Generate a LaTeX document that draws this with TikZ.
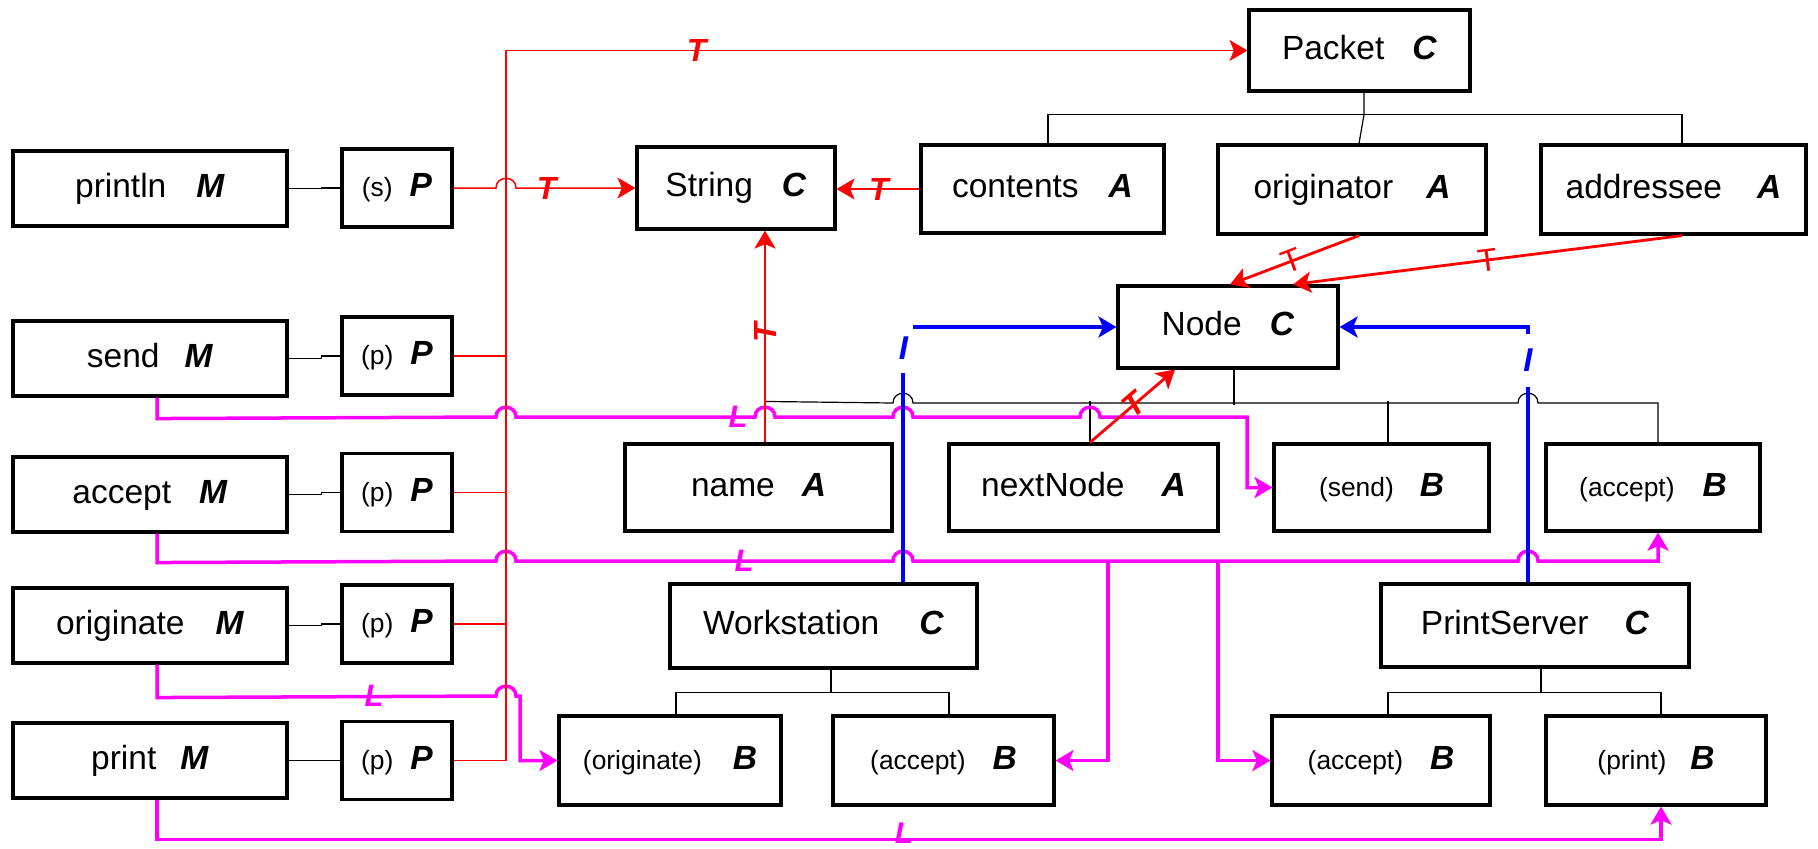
\documentclass[tikz,border=0pt]{standalone}
\usepackage{fontspec}
\setmainfont{Liberation Sans}
\usetikzlibrary{arrows.meta}

\newcommand{\bigsz}{\fontsize{16.75pt}{20pt}\selectfont}
\newcommand{\smlsz}{\fontsize{13.2pt}{16pt}\selectfont}
\newcommand{\kind}[1]{\textbf{\textit{#1}}}

\definecolor{lnkred}{RGB}{255,0,0}
\definecolor{lnkmag}{RGB}{255,0,255}
\definecolor{lnkblue}{RGB}{0,0,255}

\begin{document}
\begin{tikzpicture}[x=0.5pt,y=-0.5pt,
  >={Stealth[length=9pt,width=10.5pt,inset=2.2pt]},
  box/.style={draw=black, line width=1.55pt, inner sep=0pt, font=\bigsz, text height=12pt, text depth=3.3pt},
  mbox/.style={box, minimum width=137pt, minimum height=37.5pt},
  pbox/.style={box, minimum width=55pt, minimum height=39pt},
  tree/.style={draw=black, line width=0.6pt},
  redthin/.style={draw=lnkred, line width=0.75pt},
  redthick/.style={draw=lnkred, line width=1.4pt},
  mag/.style={draw=lnkmag, line width=1.75pt},
  blu/.style={draw=lnkblue, line width=1.75pt},
  tlbl/.style={text=lnkred, font=\fontsize{16pt}{18pt}\selectfont\bfseries\itshape, inner sep=0pt},
  tthin/.style={text=lnkred, font=\fontsize{16pt}{18pt}\selectfont, inner sep=0pt},
  llbl/.style={text=lnkmag, font=\fontsize{15.5pt}{18pt}\selectfont\bfseries\itshape, inner sep=0pt},
  ilbl/.style={text=lnkblue, fill=white, font=\fontsize{16.5pt}{18pt}\selectfont\bfseries\itshape, inner sep=0pt},
  jump/.style 2 args={insert path={-- (#1-10,#2) .. controls (#1-10,#2-13) and (#1+10,#2-13) .. (#1+10,#2)}}
]
\useasboundingbox (0,0) rectangle (1818,848);

% ---- method boxes and their parameters
\node[mbox] (mPrintln) at (150,188.5) {println\hspace{15pt}\kind{M}};
\node[mbox] (mSend)    at (150,358.5) {send\hspace{12.5pt}\kind{M}};
\node[mbox] (mAccept)  at (150,494.5) {accept\hspace{14pt}\kind{M}};
\node[mbox] (mOrig)    at (150,625.5) {originate\hspace{15.5pt}\kind{M}};
\node[mbox] (mPrint)   at (150,760.5) {print\hspace{12pt}\kind{M}};

\node[pbox] (pPrintln) at (397,188)   {{\smlsz(s)}\hspace{8.5pt}\kind{P}};
\node[pbox] (pSend)    at (397,356)   {{\smlsz(p)}\hspace{8.5pt}\kind{P}};
\node[pbox] (pAccept)  at (397,492.5) {{\smlsz(p)}\hspace{8.5pt}\kind{P}};
\node[pbox] (pOrig)    at (397,624)   {{\smlsz(p)}\hspace{8.5pt}\kind{P}};
\node[pbox] (pPrint)   at (397,760.5) {{\smlsz(p)}\hspace{8.5pt}\kind{P}};

% ---- classes, attributes and bodies
\node[box, minimum width=99pt,    minimum height=41pt]   (String)     at (736,188)      {String\hspace{14.5pt}\kind{C}};
\node[box, minimum width=121.5pt, minimum height=44pt]   (contents)   at (1042.5,189)   {contents\hspace{15pt}\kind{A}};
\node[box, minimum width=110.5pt, minimum height=40.5pt] (Packet)     at (1359.5,50.5)  {Packet\hspace{14pt}\kind{C}};
\node[box, minimum width=134pt,   minimum height=44.5pt] (originator) at (1352,189.5)   {originator\hspace{16.5pt}\kind{A}};
\node[box, minimum width=132.5pt, minimum height=44.5pt] (addressee)  at (1673.5,189.5) {addressee\hspace{17.5pt}\kind{A}};
\node[box, minimum width=110pt,   minimum height=41pt]   (Node)       at (1228,327)     {Node\hspace{14pt}\kind{C}};
\node[box, minimum width=133.5pt, minimum height=43.5pt] (name)       at (758.5,487.5)  {name\hspace{13.5pt}\kind{A}};
\node[box, minimum width=134.5pt, minimum height=43.5pt] (nextNode)   at (1083.5,487.5) {nextNode\hspace{18.5pt}\kind{A}};
\node[box, minimum width=107.5pt, minimum height=43.5pt] (bSend)      at (1381.5,487.5) {{\smlsz(send)}\hspace{13pt}\kind{B}};
\node[box, minimum width=107pt,   minimum height=43.5pt] (bAcc1)      at (1653,487.5)   {{\smlsz(accept)}\hspace{14pt}\kind{B}};
\node[box, minimum width=153.5pt, minimum height=42pt]   (ws)         at (823.5,626)    {Workstation\hspace{20pt}\kind{C}};
\node[box, minimum width=154pt,   minimum height=41.5pt] (ps)         at (1535,625.5)   {PrintServer\hspace{18pt}\kind{C}};
\node[box, minimum width=111pt,   minimum height=44.5pt] (bOrig)      at (670,760.5)    {{\smlsz(originate)}\hspace{15.5pt}\kind{B}};
\node[box, minimum width=110.5pt, minimum height=44.5pt] (bAccWS)     at (943.5,760.5)  {{\smlsz(accept)}\hspace{13.5pt}\kind{B}};
\node[box, minimum width=109pt,   minimum height=44.5pt] (bAccPS)     at (1381,760.5)   {{\smlsz(accept)}\hspace{13.5pt}\kind{B}};
\node[box, minimum width=110pt,   minimum height=44.5pt] (bPrint)     at (1656,760.5)   {{\smlsz(print)}\hspace{12pt}\kind{B}};

% ---- method to parameter links
\foreach \m/\p in {mPrintln/pPrintln, mSend/pSend, mAccept/pAccept, mOrig/pOrig, mPrint/pPrint}
  \draw[tree] (\m.east) -- ++(33,0) |- (\p.west);

% ---- containment trees
\draw[tree] ([xshift=2.25pt]Packet.south) -- ++(0,22) coordinate (pktJ) -- ([xshift=3.5pt]originator.north);
\draw[tree] ([xshift=2.75pt]contents.north) |- (pktJ) -| ([xshift=4.25pt]addressee.north);

\draw[tree] ([xshift=3pt]Node.south) -- ++(0,35) coordinate (nodeJ);
\draw[tree] ([xshift=3.25pt]name.north) -- ++(0,-41) [jump={903}{403}] [jump={1528}{403}] -| ([xshift=2.5pt]bAcc1.north);
\draw[tree] ([xshift=3.25pt]nextNode.north) -- ++(0,-41);
\draw[tree] ([xshift=3.25pt]bSend.north) -- ++(0,-41);

\draw[tree] ([xshift=3.75pt]ws.south) -- ++(0,23) coordinate (wsJ);
\draw[tree] ([xshift=3pt]bOrig.north) |- (wsJ) -| ([xshift=2.75pt]bAccWS.north);

\draw[tree] ([xshift=3pt]ps.south) -- ++(0,24) coordinate (psJ);
\draw[tree] ([xshift=3.5pt]bAccPS.north) |- (psJ) -| ([xshift=2.5pt]bPrint.north);

% ---- method to body links
\draw[mag,->] ([xshift=3.5pt]mSend.south) -- ++(0,21) [jump={506}{417}] [jump={765}{417}] [jump={903}{417}] [jump={1090}{417}] -- (1247,417) |- (bSend.west);
\draw[mag,->] ([xshift=3.5pt]mAccept.south) -- ++(0,29) [jump={506}{561}] [jump={903}{561}] [jump={1528}{561}] -| ([xshift=2.5pt]bAcc1.south);
\coordinate (accJa) at (1108,561);
\coordinate (accJb) at (1218,561);
\draw[mag,->] (accJa) |- (bAccWS.east);
\draw[mag,->] (accJb) |- (bAccPS.west);
\draw[mag,->] ([xshift=3.5pt]mOrig.south) -- ++(0,33) [jump={506}{696}] -- (520,696) |- (bOrig.west);
\draw[mag,->] ([xshift=3.5pt]mPrint.south) -- ++(0,40) -| ([xshift=2.5pt]bPrint.south);

% ---- type links
\coordinate (trunkTop) at (506,50.5);
\draw[redthin,->] (pPrint.east) -| (trunkTop) -- (Packet.west) node[tlbl, pos=0.257] (tPkt) {T};
\foreach \p in {pSend,pAccept,pOrig}
  \draw[redthin] (\p.east) -- (\p.east -| trunkTop);
\draw[redthin,->] (pPrintln.east) [jump={506}{188}] -- (String.west) node[tlbl, pos=0.256] (tStrA) {T};
\draw[redthin,->] (contents.west) -- (contents.west -| String.east) node[tlbl, pos=0.49] (tStrB) {T};
\draw[redthick,->] ([xshift=3.25pt]name.north) -- ([xshift=3.25pt]name.north |- String.south) node[tlbl, sloped, pos=0.52] (tStrC) {T};
\draw[redthick,->] ([xshift=3.25pt]nextNode.north) -- ([xshift=-26.5pt]Node.south) node[tlbl, sloped, pos=0.52] (tNodeA) {T};
\draw[redthick,->] ([xshift=3.5pt]originator.south) -- ([xshift=1pt]Node.north) node[tthin, sloped, pos=0.52] (tNodeB) {T};
\draw[redthick,->] ([xshift=4.25pt]addressee.south) -- ([xshift=32.5pt]Node.north) node[tthin, sloped, pos=0.5] (tNodeC) {T};

% ---- inheritance links
\draw[blu,->] ([xshift=39.75pt]ws.north) |- (Node.west);
\draw[blu,->] ([xshift=-3.5pt]ps.north) |- (Node.east);
\node[ilbl, minimum width=9.5pt, minimum height=25pt] (iWs) at (903.5,348) {I};
\node[ilbl, minimum width=9pt, minimum height=26.5pt] (iPs) at (1528,360.5) {I};

% ---- link labels
\node[llbl] (lSend)   at (738,417) {L};
\node[llbl] (lAccept) at (744,561) {L};
\node[llbl] (lOrig)   at (374,696) {L};
\node[llbl, font=\fontsize{15pt}{18pt}\selectfont\bfseries\itshape] (lPrint) at (904,833.5) {L};

\end{tikzpicture}
\end{document}
